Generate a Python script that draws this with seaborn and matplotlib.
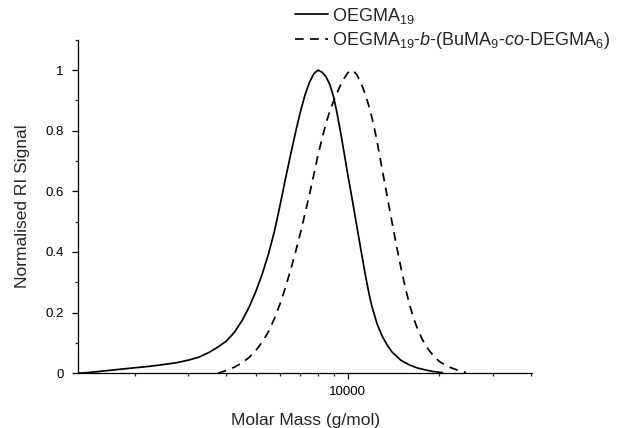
import numpy as np
import pandas as pd
import matplotlib
matplotlib.use("Agg")
import matplotlib.pyplot as plt
from matplotlib.ticker import FixedLocator, FuncFormatter, LogLocator, NullFormatter
import seaborn as sns

# GPC traces (molar mass in g/mol, normalised RI signal)
mm_homo = [1300, 1400, 1500, 1750, 2000, 2250, 2500, 2750, 3000, 3250, 3500, 3750,
           4000, 4250, 4500, 4750, 5000, 5250, 5500, 5750, 6000, 6250, 6500, 6750,
           7000, 7250, 7500, 7750, 8000, 8250, 8500, 8750, 9000, 9250, 9500, 9750,
           10000, 10250, 10500, 10750, 11000, 11250, 11500, 11750, 12000, 12500,
           13000, 13500, 14000, 15000, 16000, 17000, 18000, 19000, 20500]
ri_homo = [0.000, 0.002, 0.005, 0.012, 0.018, 0.023, 0.029, 0.035, 0.043, 0.053, 0.068, 0.086,
           0.106, 0.135, 0.173, 0.218, 0.270, 0.328, 0.393, 0.467, 0.553, 0.640, 0.720, 0.795,
           0.862, 0.918, 0.960, 0.988, 1.000, 0.993, 0.978, 0.952, 0.912, 0.855, 0.792, 0.726,
           0.660, 0.600, 0.540, 0.480, 0.422, 0.366, 0.313, 0.265, 0.224, 0.163,
           0.122, 0.093, 0.070, 0.042, 0.027, 0.017, 0.011, 0.006, 0.002]

mm_block = [3750, 4000, 4250, 4500, 4750, 5000, 5250, 5500, 5750, 6000, 6250, 6500,
            6750, 7000, 7250, 7500, 7750, 8000, 8250, 8500, 8750, 9000, 9250, 9500,
            9750, 10000, 10250, 10500, 10750, 11000, 11250, 11500, 11750, 12000, 12250,
            12500, 13000, 13500, 14000, 14500, 15000, 15500, 16000, 16500, 17000, 17500,
            18000, 18500, 19000, 20000, 21000, 22000, 23000, 24500]
ri_block = [0.000, 0.009, 0.020, 0.034, 0.052, 0.075, 0.103, 0.137, 0.180, 0.228, 0.282, 0.340,
            0.400, 0.462, 0.526, 0.590, 0.655, 0.720, 0.775, 0.825, 0.865, 0.898, 0.926, 0.952,
            0.973, 0.990, 1.000, 0.996, 0.983, 0.963, 0.940, 0.913, 0.882, 0.847, 0.808,
            0.765, 0.672, 0.583, 0.498, 0.418, 0.345, 0.280, 0.225, 0.180, 0.145, 0.117,
            0.094, 0.076, 0.062, 0.039, 0.026, 0.017, 0.010, 0.002]

label_homo = r"OEGMA$\mathregular{_{19}}$"
label_block = (r"OEGMA$\mathregular{_{19}}$-$\mathit{b}$-(BuMA$\mathregular{_{9}}$-"
               r"$\mathit{co}$-DEGMA$\mathregular{_{6}}$)")

y_ticks = [0, 0.2, 0.4, 0.6, 0.8, 1.0]

sns.set_style("ticks")
plt.rcParams["font.family"] = ["Liberation Sans", "DejaVu Sans"]
plt.rcParams["mathtext.fontset"] = "custom"
plt.rcParams["mathtext.rm"] = "Liberation Sans"
plt.rcParams["mathtext.it"] = "Liberation Sans:italic"
plt.rcParams["mathtext.bf"] = "Liberation Sans:bold"

df = pd.concat([
    pd.DataFrame({"mm": mm_homo, "ri": ri_homo, "sample": label_homo}),
    pd.DataFrame({"mm": mm_block, "ri": ri_block, "sample": label_block}),
])

fig = plt.figure(figsize=(6.17, 4.28), dpi=100)
ax = fig.add_axes([0.126, 0.128, 0.737, 0.779])

lw = 1.25
dash = (5, 3.7)
sns.lineplot(data=df, x="mm", y="ri", hue="sample", style="sample",
             palette=["black", "black"], dashes=["", dash],
             linewidth=lw, legend=False, ax=ax)

ax.set_xscale("log")
ax.set_xlim(1300, 40500)
ax.set_ylim(0, 1.1)

ax.xaxis.set_major_locator(FixedLocator([10000]))
ax.xaxis.set_major_formatter(FuncFormatter(lambda v, p: f"{v:.0f}"))
ax.xaxis.set_minor_locator(LogLocator(base=10, subs=np.arange(2, 10)))
ax.xaxis.set_minor_formatter(NullFormatter())

ax.yaxis.set_major_locator(FixedLocator(y_ticks))
ax.yaxis.set_major_formatter(FuncFormatter(lambda v, p: f"{v:g}"))
ax.yaxis.set_minor_locator(FixedLocator([0.1, 0.3, 0.5, 0.7, 0.9, 1.1]))

ax.tick_params(axis="both", which="major", direction="out", length=4, width=0.9,
               labelsize=9.5, colors="black", pad=6)
ax.tick_params(axis="both", which="minor", direction="out", length=2.5, width=0.9)
ax.tick_params(axis="x", which="major", pad=5.5)

for s in ["left", "bottom"]:
    ax.spines[s].set_linewidth(0.9)
    ax.spines[s].set_color("black")
sns.despine(ax=ax)

ax.set_xlabel("Molar Mass (g/mol)", fontsize=12.5, labelpad=10.5)
ax.set_ylabel("Normalised RI Signal", fontsize=12.5, labelpad=11)

h1, = ax.plot([], [], color="black", lw=lw, label=label_homo)
h2, = ax.plot([], [], color="black", lw=lw, ls=(0, dash), label=label_block)
fig.legend(handles=[h1, h2], loc="upper left", bbox_to_anchor=(0.465, 1.006),
           frameon=False, fontsize=13, handlelength=1.85, handletextpad=0.2,
           labelspacing=0.25, borderaxespad=0.05)

fig.savefig("out.png", dpi=100)
